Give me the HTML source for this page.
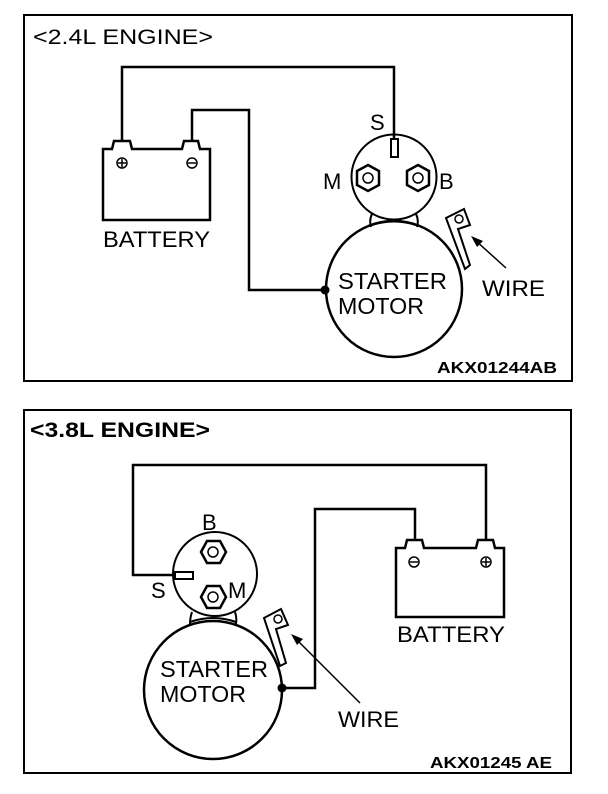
<!DOCTYPE html>
<html><head><style>
html,body{margin:0;padding:0;background:#fff;}
svg{display:block;}
text{font-family:"Liberation Sans",sans-serif;fill:#000;}
</style></head><body>
<svg width="608" height="794" viewBox="0 0 608 794" xmlns="http://www.w3.org/2000/svg">
<g fill="none" stroke="#000" stroke-width="2">
<rect x="24" y="15" width="548" height="366"/>
<rect x="24" y="410" width="547" height="363"/>

<!-- TOP -->
<polyline points="122,141 122,67 394,67 394,140" stroke-width="2.5"/>
<polyline points="192,141 192,110 249,110 249,290 325,290" stroke-width="2.5"/>
<path d="M103,220 L103,149 L112,149 L114,141 L130,141 L132,149 L182,149 L184,141 L198,141 L200,149 L210,149 L210,220 Z" stroke-width="2.5"/>
<circle cx="122" cy="163" r="5" stroke-width="1.5"/>
<line x1="118" y1="163" x2="126" y2="163" stroke-width="1.5"/><line x1="122" y1="159" x2="122" y2="167" stroke-width="1.5"/>
<circle cx="192" cy="163" r="5" stroke-width="1.5"/>
<line x1="188" y1="163" x2="196" y2="163" stroke-width="1.5"/>
<circle cx="394" cy="177" r="42.5"/>
<rect x="391" y="139" width="7" height="18" stroke-width="2"/>
<polygon points="368,165 379,171 379,185 368,191 357,185 357,171" stroke-width="2.5"/>
<circle cx="368" cy="178" r="5" stroke-width="1.5"/>
<polygon points="418,165 429,171 429,185 418,191 407,185 407,171" stroke-width="2.5"/>
<circle cx="418" cy="178" r="5" stroke-width="1.5"/>
<path d="M372,214 Q369,220 371,227 M416,214 Q419,220 417,227" />
<path d="M372,225 Q394,218 416,225"/>
<circle cx="394" cy="289" r="68" stroke-width="2.5"/>
<circle cx="325" cy="290" r="3.5" fill="#000"/>
<path d="M446,218 L464,209 L470,225 L458,229 L470,265 L465,269 Z" stroke-width="2"/>
<circle cx="459" cy="219" r="4" stroke-width="1.5"/>
<line x1="475" y1="240" x2="506" y2="268" stroke-width="1.5"/>
<polygon points="471,236 483,241 477,247" fill="#000" stroke="none"/>

<!-- BOTTOM -->
<polyline points="175,575 133,575 133,465 486,465 486,541" stroke-width="2.5"/>
<polyline points="282,688 315,688 315,509 415,509 415,541" stroke-width="2.5"/>
<path d="M396,617 L396,548 L405,548 L407,540 L422,540 L424,548 L476,548 L478,540 L493,540 L495,548 L504,548 L504,617 Z" stroke-width="2.5"/>
<circle cx="414" cy="562" r="5" stroke-width="1.5"/>
<line x1="410" y1="562" x2="418" y2="562" stroke-width="1.5"/>
<circle cx="486" cy="562" r="5" stroke-width="1.5"/>
<line x1="482" y1="562" x2="490" y2="562" stroke-width="1.5"/><line x1="486" y1="558" x2="486" y2="566" stroke-width="1.5"/>
<circle cx="215" cy="574" r="42"/>
<rect x="175" y="572" width="18" height="7" stroke-width="2"/>
<polygon points="201,552 207,541 220,541 226,552 220,563 207,563" stroke-width="2.5"/>
<circle cx="213" cy="552" r="5" stroke-width="1.5"/>
<polygon points="201,597 207,586 220,586 226,597 220,608 207,608" stroke-width="2.5"/>
<circle cx="213" cy="597" r="5" stroke-width="1.5"/>
<path d="M192,612 Q190,618 190,624 M235,612 Q237,618 236,624"/>
<path d="M190,622 Q213,614 236,622"/>
<circle cx="213" cy="690" r="69" stroke-width="2.5"/>
<circle cx="282" cy="688" r="3.5" fill="#000"/>
<path d="M264,618 L281,609 L288,625 L276,629 L286,663 L280,666 Z" stroke-width="2"/>
<circle cx="278" cy="619" r="4" stroke-width="1.5"/>
<line x1="295" y1="638" x2="360" y2="703" stroke-width="1.5"/>
<polygon points="291,634 303,639 297,645" fill="#000" stroke="none"/>
</g>

<g>
<text x="33" y="44" font-size="21" textLength="180" lengthAdjust="spacingAndGlyphs">&lt;2.4L ENGINE&gt;</text>
<text x="103" y="247" font-size="22" textLength="107" lengthAdjust="spacingAndGlyphs">BATTERY</text>
<text x="370" y="130" font-size="22">S</text>
<text x="323" y="189" font-size="22">M</text>
<text x="439" y="189" font-size="22">B</text>
<text x="338" y="289" font-size="23" textLength="109" lengthAdjust="spacingAndGlyphs">STARTER</text>
<text x="338" y="314" font-size="23" textLength="86" lengthAdjust="spacingAndGlyphs">MOTOR</text>
<text x="482" y="296" font-size="22" textLength="63" lengthAdjust="spacingAndGlyphs">WIRE</text>
<text x="437" y="373" font-size="16" font-weight="bold" textLength="120" lengthAdjust="spacingAndGlyphs">AKX01244AB</text>

<text x="30" y="437" font-size="21" font-weight="bold" textLength="180" lengthAdjust="spacingAndGlyphs">&lt;3.8L ENGINE&gt;</text>
<text x="202" y="530" font-size="22">B</text>
<text x="151" y="598" font-size="22">S</text>
<text x="228" y="598" font-size="22">M</text>
<text x="397" y="642" font-size="22" textLength="108" lengthAdjust="spacingAndGlyphs">BATTERY</text>
<text x="160" y="677" font-size="23" textLength="108" lengthAdjust="spacingAndGlyphs">STARTER</text>
<text x="160" y="702" font-size="23" textLength="86" lengthAdjust="spacingAndGlyphs">MOTOR</text>
<text x="338" y="727" font-size="22" textLength="61" lengthAdjust="spacingAndGlyphs">WIRE</text>
<text x="430" y="768" font-size="16" font-weight="bold" textLength="122" lengthAdjust="spacingAndGlyphs">AKX01245 AE</text>
</g>
</svg>
</body></html>
